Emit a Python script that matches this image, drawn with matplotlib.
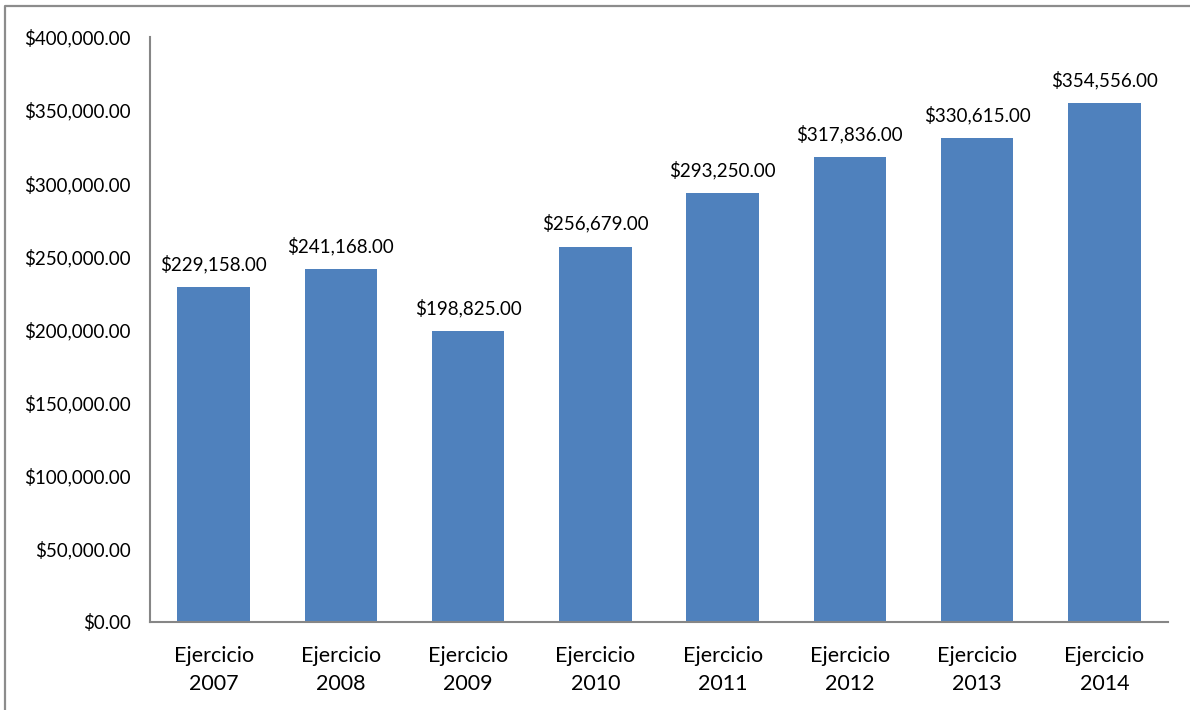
import matplotlib.pyplot as plt
from matplotlib.lines import Line2D
from matplotlib.ticker import FuncFormatter

# Yearly totals per fiscal exercise
years = ['2007', '2008', '2009', '2010', '2011', '2012', '2013', '2014']
amounts = [229158.00, 241168.00, 198825.00, 256679.00,
           293250.00, 317836.00, 330615.00, 354556.00]
labels = [f'Ejercicio\n{y}' for y in years]

plt.rcParams['font.family'] = ['Lato', 'DejaVu Sans']

fig = plt.figure(figsize=(11.9, 7.1), dpi=100)
ax = fig.add_axes([0.126, 0.124, 0.8555, 0.824])

x = range(len(years))
bars = ax.bar(x, amounts, width=0.57, color='#4F81BD')

money = lambda v, pos=None: f'${v:,.2f}'

for b, v in zip(bars, amounts):
    ax.annotate(money(v), (b.get_x() + b.get_width() / 2, v),
                xytext=(0, 10), textcoords='offset points',
                ha='center', va='bottom', fontsize=13.5)

ax.set_xlim(-0.5, len(years) - 0.5)
ax.set_ylim(0, 400000)
ax.set_yticks(range(0, 400001, 50000))
ax.yaxis.set_major_formatter(FuncFormatter(money))
ax.set_xticks(list(x))
ax.set_xticklabels(labels, linespacing=1.55, fontsize=15.5)
ax.tick_params(axis='y', length=0, pad=14, labelsize=13.5)
ax.tick_params(axis='x', length=0, pad=17)

for side in ['top', 'right']:
    ax.spines[side].set_visible(False)
for side in ['left', 'bottom']:
    ax.spines[side].set_color('#868686')
    ax.spines[side].set_linewidth(1.5)

# outer chart frame (left and top edges)
fig.add_artist(Line2D([5 / 1190, 5 / 1190, 1.0], [0.0, 1 - 6 / 710, 1 - 6 / 710],
                      transform=fig.transFigure, color='#8c8c8c', linewidth=1.6))

fig.savefig('out.png', dpi=100)
